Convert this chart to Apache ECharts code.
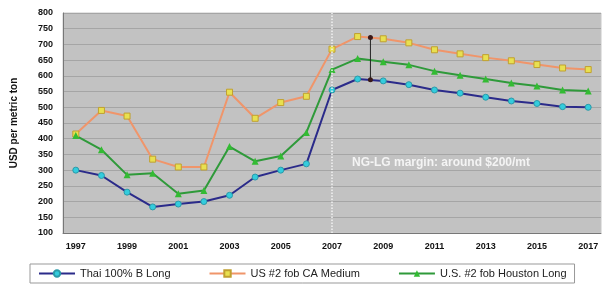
<!DOCTYPE html>
<html>
<head>
<meta charset="utf-8">
<script src="https://cdn.jsdelivr.net/npm/echarts@6/dist/echarts.min.js"></script>
<style>
  html, body { margin: 0; padding: 0; background: #fff; }
  #main { width: 606px; height: 285px; }
</style>
</head>
<body>
<div id="main"></div>
<script>
var years = ['1997', '1998', '1999', '2000', '2001', '2002', '2003', '2004', '2005', '2006', '2007',
  '2008', '2009', '2010', '2011', '2012', '2013', '2014', '2015', '2016', '2017'];
var thaiLong = [300, 283, 230, 183, 192, 200, 220, 278, 300, 320, 555,
  590, 584, 572, 555, 545, 532, 520, 512, 502, 500];
var caMedium = [415, 490, 472, 335, 310, 310, 548, 465, 515, 535, 685,
  725, 718, 705, 683, 670, 658, 648, 636, 625, 620];
var houstonLong = [410, 365, 285, 290, 225, 235, 375, 328, 345, 420, 620,
  655, 645, 635, 615, 602, 590, 577, 568, 555, 552];
// margin bracket between the US and Thai curves
var marginLine = [[2008.5, 722], [2008.5, 588]];
var marginText = 'NG-LG margin: around $200/mt';

var chart = echarts.init(document.getElementById('main'));
var option = {
  animation: false,
  backgroundColor: '#fff',
  textStyle: { fontFamily: 'Liberation Sans, Arial, sans-serif' },
  grid: { left: 63, right: 5, top: 13, bottom: 52, show: true, backgroundColor: '#c2c2c2', borderColor: '#c8c8c8', borderWidth: 1 },
  legend: {
    bottom: 2,
    left: 30,
    padding: [4, 8],
    itemGap: 38,
    itemWidth: 36,
    itemHeight: 8,
    borderColor: '#999',
    borderWidth: 1,
    textStyle: { fontSize: 11, color: '#222' },
    data: ['Thai 100% B Long', 'US #2 fob CA Medium', 'U.S. #2 fob Houston Long']
  },
  xAxis: [{
    type: 'category',
    data: years,
    boundaryGap: true,
    axisLine: { lineStyle: { color: '#777' } },
    axisTick: { interval: 0, length: 4, lineStyle: { color: '#777' } },
    axisLabel: { interval: 1, fontSize: 9, fontWeight: 'bold', color: '#111', margin: 9 },
    splitLine: { show: false }
  }, {
    type: 'value',
    min: 1996.5,
    max: 2017.5,
    show: false,
    splitLine: { show: false }
  }],
  yAxis: {
    type: 'value',
    min: 100,
    max: 800,
    interval: 50,
    name: 'USD per metric ton',
    nameLocation: 'middle',
    nameGap: 44,
    nameTextStyle: { fontSize: 10, fontWeight: 'bold', color: '#111' },
    axisLine: { show: true, lineStyle: { color: '#777' } },
    axisTick: { show: false },
    axisLabel: { fontSize: 9, fontWeight: 'bold', color: '#111', margin: 10 },
    splitLine: { lineStyle: { color: '#a5a5a5', width: 1 } }
  },
  graphic: [{
    type: 'text',
    left: 352,
    top: 157,
    style: { text: marginText, fill: '#f4f4f4', font: 'bold 12px Liberation Sans, Arial' }
  }],
  series: [{
    name: 'Thai 100% B Long',
    type: 'line',
    data: thaiLong,
    symbol: 'circle',
    symbolSize: 6,
    lineStyle: { color: '#2b2b8a', width: 2 },
    itemStyle: { color: '#33ccdd', borderColor: '#2b9aa8', borderWidth: 1 },
    markLine: {
      silent: true,
      symbol: 'none',
      label: { show: false },
      lineStyle: { color: '#f2f2f2', type: 'dotted', width: 1.5 },
      data: [{ xAxis: '2007' }]
    },
    z: 3
  }, {
    name: 'US #2 fob CA Medium',
    type: 'line',
    data: caMedium,
    symbol: 'rect',
    symbolSize: 6,
    lineStyle: { color: '#f0956a', width: 2 },
    itemStyle: { color: '#e8e050', borderColor: '#c0a030', borderWidth: 1 },
    z: 3
  }, {
    name: 'U.S. #2 fob Houston Long',
    type: 'line',
    data: houstonLong,
    symbol: 'triangle',
    symbolSize: 7,
    lineStyle: { color: '#2f9a3a', width: 2 },
    itemStyle: { color: '#33bb33' },
    z: 3
  }, {
    name: 'margin',
    type: 'line',
    xAxisIndex: 1,
    data: marginLine,
    symbol: 'circle',
    symbolSize: 5,
    lineStyle: { color: '#222', width: 1 },
    itemStyle: { color: '#3a1a1a' },
    z: 4
  }]
};
chart.setOption(option);
</script>
</body>
</html>
